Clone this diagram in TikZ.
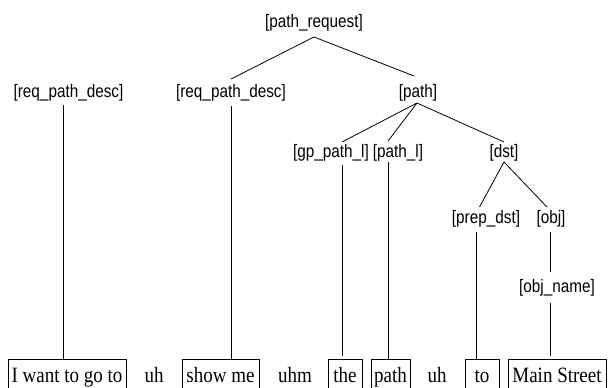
\documentclass[tikz,border=0pt]{standalone}
\usepackage{fontspec}
\setmainfont{Liberation Serif}
\newfontfamily\lblfont{Liberation Sans}
\newcommand\lbltext[1]{\scalebox{1}[1.18]{\lblfont\fontsize{15.3}{18}\selectfont #1}}
\newcommand\wrdtext[1]{\scalebox{1}[1.15]{\fontsize{19}{22}\selectfont #1}}
\begin{document}
\begin{tikzpicture}[x=1pt,y=-1pt,
  lbl/.style={inner sep=0pt, font=\lblfont},
  wordbox/.style={draw, line width=0.8pt, inner sep=0pt, minimum height=36pt, text height=14pt, text depth=4pt, anchor=center},
  plainword/.style={inner sep=0pt, minimum height=36pt, text height=14pt, text depth=4pt, anchor=center},
  conn/.style={line width=0.8pt}]
\clip (0,0) rectangle (608,388);
\fill[white] (0,0) rectangle (608,388);
% labels
\node[lbl] (pr) at (314,22.5) {\lbltext{[path\_request]}};
\node[lbl] (rq1) at (68.5,93) {\lbltext{[req\_path\_desc]}};
\node[lbl] (rq2) at (231,93) {\lbltext{[req\_path\_desc]}};
\node[lbl] (pa) at (418,93) {\lbltext{[path]}};
\node[lbl] (gp) at (331,153) {\lbltext{[gp\_path\_l]}};
\node[lbl] (pl) at (398,153) {\lbltext{[path\_l]}};
\node[lbl] (ds) at (504,153) {\lbltext{[dst]}};
\node[lbl] (pd) at (486,219) {\lbltext{[prep\_dst]}};
\node[lbl] (ob) at (551,219) {\lbltext{[obj]}};
\node[lbl] (on) at (557,288) {\lbltext{[obj\_name]}};
% words
\node[wordbox, minimum width=118pt] (w1) at (67,377) {\wrdtext{I want to go to}};
\node[plainword] (w2) at (154,377) {\wrdtext{uh}};
\node[wordbox, minimum width=77pt] (w3) at (220.5,377) {\wrdtext{show me}};
\node[plainword] (w4) at (295,377) {\wrdtext{uhm}};
\node[wordbox, minimum width=34pt] (w5) at (345,377) {\wrdtext{the}};
\node[wordbox, minimum width=39pt] (w6) at (390.5,377) {\wrdtext{path}};
\node[plainword] (w7) at (437,377) {\wrdtext{uh}};
\node[wordbox, minimum width=34pt] (w8) at (482,377) {\wrdtext{to}};
\node[wordbox, minimum width=98pt] (w9) at (557,377) {\wrdtext{Main Street}};
% attach points
\coordinate (pr-b) at (314,37);
\coordinate (rq2-t) at (231,79);
\coordinate (pa-t) at (414,76);
\coordinate (rq1-b) at (63,105);
\coordinate (rq2-b) at (231,106);
\coordinate (pa-b) at (417,103);
\coordinate (gp-t) at (342,142);
\coordinate (pl-t) at (388,141);
\coordinate (ds-t) at (504,142);
\coordinate (gp-b) at (342.5,165);
\coordinate (pl-b) at (388,162);
\coordinate (ds-b) at (504,162);
\coordinate (pd-t) at (479.5,207);
\coordinate (ob-t) at (547,207);
\coordinate (pd-b) at (476,232);
\coordinate (ob-b) at (550,232);
\coordinate (on-t) at (550,272);
\coordinate (on-b) at (550,303);
\coordinate (w1-t) at (63,359);
\coordinate (w3-t) at (231,359);
\coordinate (w5-t) at (342.5,355.5);
\coordinate (w6-t) at (388,359);
\coordinate (w8-t) at (476,359);
\coordinate (w9-t) at (550,355.5);
% connectors
\draw[conn] (rq2-t) -- (pr-b) -- (pa-t);
\draw[conn] (rq1-b) -- (w1-t);
\draw[conn] (rq2-b) -- (w3-t);
\draw[conn] (pa-b) -- (gp-t);
\draw[conn] (pa-b) -- (pl-t);
\draw[conn] (pa-b) -- (ds-t);
\draw[conn] (gp-b) -- (w5-t);
\draw[conn] (pl-b) -- (w6-t);
\draw[conn] (pd-t) -- (ds-b) -- (ob-t);
\draw[conn] (pd-b) -- (w8-t);
\draw[conn] (ob-b) -- (on-t);
\draw[conn] (on-b) -- (w9-t);
\end{tikzpicture}
\end{document}
